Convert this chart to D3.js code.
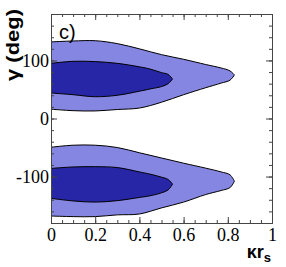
<!DOCTYPE html>
<html>
<head>
    <script src="https://d3js.org/d3.v7.min.js"></script>
    <style>
        body { margin: 0; background: #fff; }
        .axis path, .axis line { stroke: #444; }
        .axis text { font-family: 'Liberation Serif'; font-size: 18px; fill: #000; }
    </style>
</head>
<body>
    <script>
        // ticks
        const kappaTicks = [0, 0.2, 0.4, 0.6, 0.8, 1];
        const gammaTicks = [-100, 0, 100];

        // contour outlines: kappa stations, upper and lower gamma edge
        const outerKappa = [0, 0.1, 0.2, 0.3, 0.4, 0.5, 0.6, 0.7, 0.77, 0.81, 0.83];
        const innerKappa = [0, 0.1, 0.2, 0.3, 0.4, 0.45, 0.5, 0.53, 0.55];

        // upper solution (gamma ~ 70)
        const topOuterHigh = [132, 133.5, 134, 129, 120, 110, 102, 93, 87, 82, 75];
        const topOuterLow  = [16, 13.5, 13, 15.5, 18, 28, 41, 53, 61, 66, 75];
        const topInnerHigh = [95, 98.5, 98, 95, 89, 85, 79, 76, 68];
        const topInnerLow  = [44, 41, 37.5, 40, 47, 51, 55, 60, 68];

        // lower solution (gamma ~ -110)
        const botOuterHigh = [-49.5, -46, -46, -50, -59, -68, -77, -85.5, -92, -97, -108];
        const botOuterLow  = [-168, -169, -169, -166, -164.5, -154, -144, -131, -124, -119, -108];
        const botInnerHigh = [-86, -83.5, -83, -84.5, -92, -96, -101, -105, -113];
        const botInnerLow  = [-137.5, -142, -144, -141.5, -136, -133, -128, -123, -113];

        const width = 286, height = 267;
        const margin = {top: 14, right: 14, bottom: 44, left: 51};

        const x = d3.scaleLinear().domain([0, 1]).range([margin.left, width - margin.right]);
        const y = d3.scaleLinear().domain([-180, 180]).range([height - margin.bottom, margin.top]);

        const svg = d3.select('body').append('svg')
            .attr('width', width)
            .attr('height', height);

        svg.append('clipPath').attr('id', 'frame')
            .append('rect')
            .attr('x', x(0)).attr('y', y(180))
            .attr('width', x(1) - x(0)).attr('height', y(-180) - y(180));

        const band = (k, hi, lo) => d3.area()
            .x((d, i) => x(k[i]))
            .y0((d, i) => y(lo[i]))
            .y1((d, i) => y(hi[i]))
            .curve(d3.curveCatmullRom)(k);

        const contours = [
            {k: outerKappa, hi: topOuterHigh, lo: topOuterLow, fill: '#8585e2'},
            {k: outerKappa, hi: botOuterHigh, lo: botOuterLow, fill: '#8585e2'},
            {k: innerKappa, hi: topInnerHigh, lo: topInnerLow, fill: '#2626a6'},
            {k: innerKappa, hi: botInnerHigh, lo: botInnerLow, fill: '#2626a6'}
        ];

        svg.append('g').attr('clip-path', 'url(#frame)')
            .selectAll('path')
            .data(contours)
            .join('path')
            .attr('d', d => band(d.k, d.hi, d.lo))
            .attr('fill', d => d.fill)
            .attr('stroke', '#000')
            .attr('stroke-width', 1);

        const minorX = d3.range(0, 1.0001, 0.05);
        const minorY = d3.range(-180, 181, 20);

        // bottom
        svg.append('g').attr('class', 'axis')
            .attr('transform', `translate(0,${y(-180)})`)
            .call(d3.axisBottom(x).tickValues(minorX).tickSize(-3).tickSizeOuter(0).tickFormat(''));
        svg.append('g').attr('class', 'axis')
            .attr('transform', `translate(0,${y(-180)})`)
            .call(d3.axisBottom(x).tickValues(kappaTicks).tickSize(-6).tickSizeOuter(0)
                .tickPadding(5).tickFormat(d3.format('~g')));
        // top
        svg.append('g').attr('class', 'axis')
            .attr('transform', `translate(0,${y(180)})`)
            .call(d3.axisTop(x).tickValues(minorX).tickSize(-3).tickSizeOuter(0).tickFormat(''));
        svg.append('g').attr('class', 'axis')
            .attr('transform', `translate(0,${y(180)})`)
            .call(d3.axisTop(x).tickValues(kappaTicks).tickSize(-6).tickSizeOuter(0).tickFormat(''));
        // left
        svg.append('g').attr('class', 'axis')
            .attr('transform', `translate(${x(0)},0)`)
            .call(d3.axisLeft(y).tickValues(minorY).tickSize(-3).tickSizeOuter(0).tickFormat(''));
        svg.append('g').attr('class', 'axis')
            .attr('transform', `translate(${x(0)},0)`)
            .call(d3.axisLeft(y).tickValues(gammaTicks).tickSize(-6).tickSizeOuter(0)
                .tickPadding(2).tickFormat(d => String(d)));
        // right
        svg.append('g').attr('class', 'axis')
            .attr('transform', `translate(${x(1)},0)`)
            .call(d3.axisRight(y).tickValues(minorY).tickSize(-3).tickSizeOuter(0).tickFormat(''));
        svg.append('g').attr('class', 'axis')
            .attr('transform', `translate(${x(1)},0)`)
            .call(d3.axisRight(y).tickValues(gammaTicks).tickSize(-6).tickSizeOuter(0).tickFormat(''));

        svg.selectAll('.axis text')
            .attr('font-family', 'Liberation Serif')
            .attr('font-size', 18);

        // titles
        svg.append('text')
            .attr('transform', 'translate(19,81) rotate(-90)')
            .attr('font-family', 'Liberation Sans')
            .attr('font-weight', 'bold')
            .attr('font-size', 18)
            .attr('textLength', 72)
            .attr('lengthAdjust', 'spacingAndGlyphs')
            .text('γ (deg)');

        const xt = svg.append('text')
            .attr('x', 271).attr('y', 258)
            .attr('text-anchor', 'end')
            .attr('font-family', 'Liberation Sans')
            .attr('font-weight', 'bold')
            .attr('font-size', 18);
        xt.append('tspan').text('κr');
        xt.append('tspan').attr('dy', 4).attr('font-size', 13).text('s');

        svg.append('text')
            .attr('x', 59).attr('y', 39)
            .attr('font-family', 'Liberation Sans')
            .attr('font-size', 20)
            .text('c)');
    </script>
</body>
</html>
